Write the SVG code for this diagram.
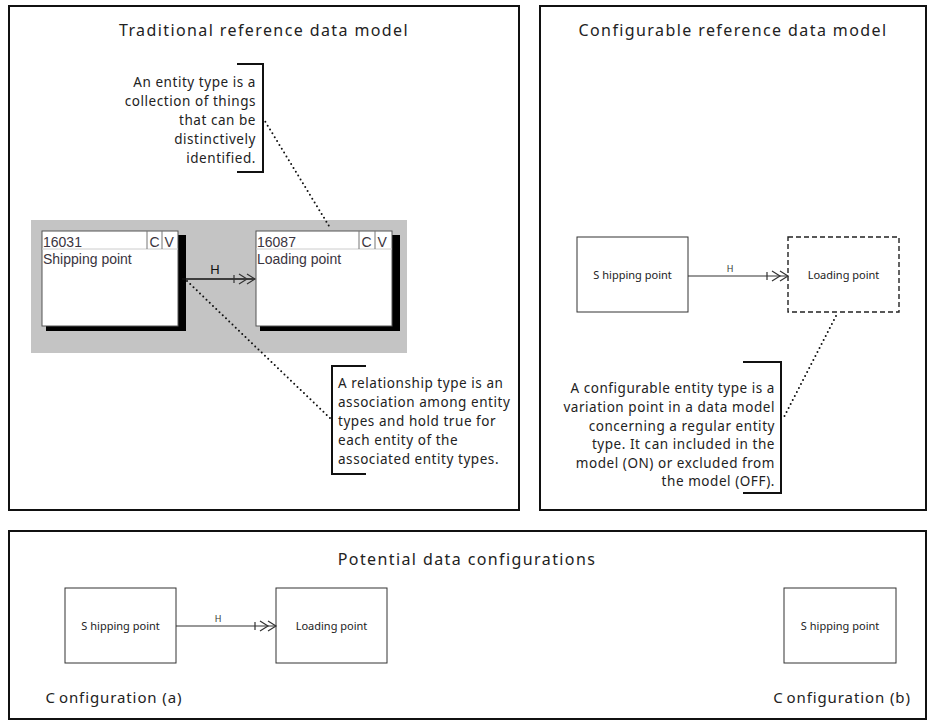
<svg xmlns="http://www.w3.org/2000/svg" width="929" height="721" viewBox="0 0 929 721">
  <defs>
    <style>
      .panel { fill: #fff; stroke: #111; stroke-width: 2; }
      .title { font-family: "Noto Sans", "Liberation Sans", sans-serif; font-size: 16px; letter-spacing: 1.4px; fill: #222; text-anchor: middle; }
      .note { font-family: "Noto Sans", "Liberation Sans", sans-serif; font-size: 13.5px; letter-spacing: 0.55px; fill: #222; }
      .bracket { fill: none; stroke: #111; stroke-width: 2; }
      .dots { fill: none; stroke: #111; stroke-width: 2; stroke-dasharray: 0 4.5; stroke-linecap: round; }
      .ent { fill: #fff; stroke: #333; stroke-width: 1; }
      .ent-dash { fill: #fff; stroke: #222; stroke-width: 1.4; stroke-dasharray: 5 3; }
      .ent-label { font-family: "Noto Sans", "Liberation Sans", sans-serif; font-size: 11px; fill: #222; text-anchor: middle; }
      .rel { fill: none; stroke: #333; stroke-width: 1.2; }
      .rel-label { font-family: "Noto Sans", "Liberation Sans", sans-serif; font-size: 9px; fill: #333; text-anchor: middle; }
      .cfg { font-family: "Noto Sans", "Liberation Sans", sans-serif; font-size: 15px; fill: #222; text-anchor: middle; letter-spacing: 0.9px; }
      .win { fill: #fff; stroke: #555; stroke-width: 1; }
      .win-shadow { fill: #000; }
      .win-txt { font-family: "Liberation Sans", Arial, sans-serif; font-size: 14px; fill: #3a3440; }
    </style>
    <!-- one-mandatory / many end of a relationship -->
    <marker id="many" markerUnits="userSpaceOnUse" markerWidth="24" markerHeight="12" viewBox="-1 -6 24 12" refX="21" refY="0" orient="auto" overflow="visible">
      <path d="M0,-4 L0,4 M5,-5 L13,0 L5,5 M13,-5 L21,0 L13,5" fill="none" stroke="#333" stroke-width="1.2"/>
    </marker>
  </defs>

  <!-- panels -->
  <g id="panel-traditional">
    <rect class="panel" x="9" y="6" width="510" height="504"/>
    <text class="title" x="264" y="36">Traditional reference data model</text>
  </g>
  <g id="panel-configurable">
    <rect class="panel" x="540" y="6" width="386" height="504"/>
    <text class="title" x="733" y="36">Configurable reference data model</text>
  </g>
  <g id="panel-configurations">
    <rect class="panel" x="9" y="531" width="917" height="188"/>
    <text class="title" x="467" y="565">Potential data configurations</text>
  </g>

  <!-- tool screenshot: two entity windows -->
  <g id="tool-canvas">
    <rect x="31" y="220" width="376" height="133" fill="#c4c4c4"/>
  </g>
  <g id="win-16031">
    <rect class="win-shadow" x="46" y="235" width="140" height="96"/>
    <rect class="win" x="42" y="231" width="136" height="95"/>
    <line x1="42" y1="249" x2="178" y2="249" stroke="#ccc"/>
    <line x1="147" y1="231" x2="147" y2="249" stroke="#777"/>
    <line x1="162" y1="231" x2="162" y2="249" stroke="#777"/>
    <text class="win-txt" x="43" y="247">16031</text>
    <text class="win-txt" x="149.5" y="247" fill="#e0405a">C</text>
    <text class="win-txt" x="164.5" y="247" fill="#5aa85a">V</text>
    <text class="win-txt" x="43" y="264">Shipping point</text>
  </g>
  <g id="win-16087">
    <rect class="win-shadow" x="260" y="235" width="140" height="96"/>
    <rect class="win" x="256" y="231" width="136" height="95"/>
    <line x1="256" y1="249" x2="392" y2="249" stroke="#ccc"/>
    <line x1="359" y1="231" x2="359" y2="249" stroke="#777"/>
    <line x1="375" y1="231" x2="375" y2="249" stroke="#777"/>
    <text class="win-txt" x="257" y="247">16087</text>
    <text class="win-txt" x="361.5" y="247" fill="#e0405a">C</text>
    <text class="win-txt" x="377.5" y="247" fill="#5aa85a">V</text>
    <text class="win-txt" x="257" y="264">Loading point</text>
  </g>

  <!-- callouts -->
  <g id="note-entity">
    <path class="bracket" d="M237,64 H263 V172 H237"/>
    <text class="note" text-anchor="end" x="256" y="87">An entity type is a</text>
    <text class="note" text-anchor="end" x="256" y="106">collection of things</text>
    <text class="note" text-anchor="end" x="256" y="125">that can be</text>
    <text class="note" text-anchor="end" x="256" y="144">distinctively</text>
    <text class="note" text-anchor="end" x="256" y="163">identified.</text>
  </g>
  <g id="note-relationship">
    <path class="bracket" d="M366,366 H332 V474 H366"/>
    <text class="note" x="338" y="388">A relationship type is an</text>
    <text class="note" x="338" y="407">association among entity</text>
    <text class="note" x="338" y="426">types and hold true for</text>
    <text class="note" x="338" y="445">each entity of the</text>
    <text class="note" x="338" y="464">associated entity types.</text>
  </g>
  <g id="note-configurable">
    <path class="bracket" d="M743,362 H781 V493 H743"/>
    <text class="note" text-anchor="end" x="775" y="393">A configurable entity type is a</text>
    <text class="note" text-anchor="end" x="775" y="412">variation point in a data model</text>
    <text class="note" text-anchor="end" x="775" y="431">concerning a regular entity</text>
    <text class="note" text-anchor="end" x="775" y="449">type. It can included in the</text>
    <text class="note" text-anchor="end" x="775" y="468">model (ON) or excluded from</text>
    <text class="note" text-anchor="end" x="775" y="486">the model (OFF).</text>
  </g>

  <!-- configurable model entities -->
  <g id="cfg-shipping">
    <rect class="ent" x="577" y="237" width="111" height="75"/>
    <text class="ent-label" x="632.5" y="279"><tspan>S</tspan><tspan dx="3">hipping point</tspan></text>
  </g>
  <g id="cfg-loading">
    <rect class="ent-dash" x="788" y="237" width="111" height="75"/>
    <text class="ent-label" x="843.5" y="279">Loading point</text>
  </g>

  <!-- configuration (a) -->
  <g id="a-shipping">
    <rect class="ent" x="65" y="588" width="111" height="75"/>
    <text class="ent-label" x="120.5" y="630"><tspan>S</tspan><tspan dx="3">hipping point</tspan></text>
  </g>
  <g id="a-loading">
    <rect class="ent" x="276" y="588" width="111" height="75"/>
    <text class="ent-label" x="331.5" y="630">Loading point</text>
  </g>
  <g id="label-a">
    <text class="cfg" x="114" y="703"><tspan>C</tspan><tspan dx="3">onfiguration (a)</tspan></text>
  </g>

  <!-- configuration (b) -->
  <g id="b-shipping">
    <rect class="ent" x="784" y="588" width="112" height="75"/>
    <text class="ent-label" x="840" y="630"><tspan>S</tspan><tspan dx="3">hipping point</tspan></text>
  </g>
  <g id="label-b">
    <text class="cfg" x="842" y="703"><tspan>C</tspan><tspan dx="3">onfiguration (b)</tspan></text>
  </g>

  <!-- connectors -->
  <g id="connectors">
    <line x1="182" y1="279" x2="255" y2="279" stroke="#111" stroke-width="1.4" marker-end="url(#many)"/>
    <text x="215" y="274" font-family="Liberation Sans, Arial, sans-serif" font-size="13" fill="#111" text-anchor="middle">H</text>

    <line class="rel" x1="688" y1="276" x2="788" y2="276" marker-end="url(#many)"/>
    <text class="rel-label" x="730" y="272">H</text>

    <line class="rel" x1="176" y1="626" x2="276" y2="626" marker-end="url(#many)"/>
    <text class="rel-label" x="218" y="622">H</text>

    <path class="dots" d="M263,118 L329,226"/>
    <path class="dots" d="M187,281 L332,420"/>
    <path class="dots" d="M836,316 L784,417"/>
  </g>
</svg>
